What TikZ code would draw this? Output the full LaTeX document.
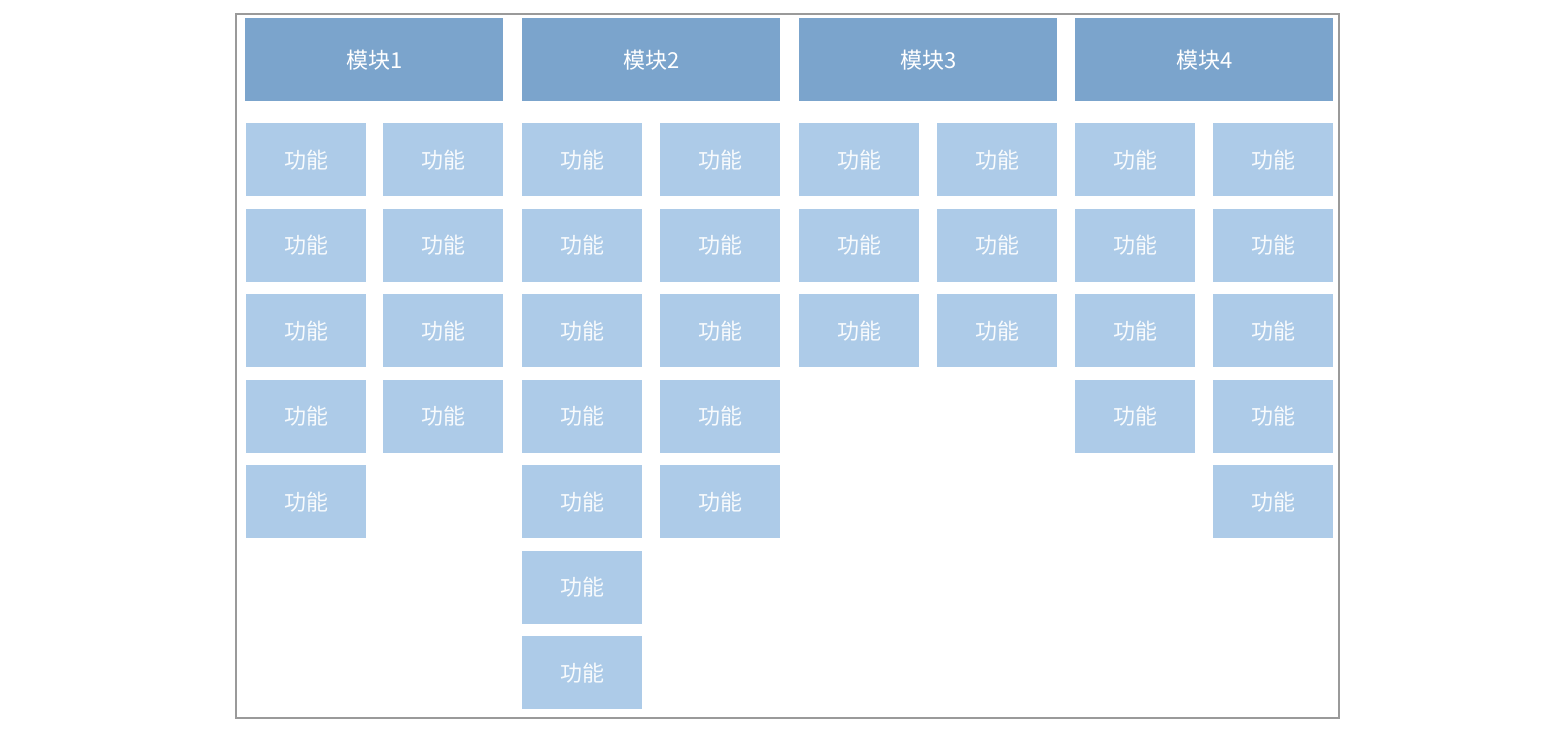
\documentclass[tikz,border=0pt]{standalone}
\usepackage{fontspec}
\newfontfamily\cjk{Noto Sans CJK SC}
\definecolor{hdr}{HTML}{7BA4CC}
\definecolor{fn}{HTML}{ADCBE8}
\definecolor{framec}{HTML}{9A9A9A}
\begin{document}
\begin{tikzpicture}[x=0.5pt,y=-0.5pt,
  header/.style={fill=hdr, text=white, font=\cjk\fontsize{11}{13}\selectfont,
    minimum width=129pt, minimum height=41.5pt, inner sep=0pt, anchor=north west},
  func/.style={fill=fn, text=white!92!fn, font=\cjk\fontsize{11}{13}\selectfont,
    minimum width=60pt, minimum height=36.5pt, inner sep=0pt, anchor=north west},
  outer/.style={draw=framec, line width=0.9pt, minimum width=551.5pt, minimum height=352pt,
    inner sep=0pt, anchor=north west}]
\path[use as bounding box] (0,0) rectangle (1552,732);
\node[outer] (frame) at (235,13) {};
\node[header] (m1) at (245,18) {模块1};
\node[header] (m2) at (522,18) {模块2};
\node[header] (m3) at (799,18) {模块3};
\node[header] (m4) at (1075,18) {模块4};
\foreach \c/\x/\n in {1a/246/5, 1b/383/4, 2a/522/7, 2b/660/5, 3a/799/3, 3b/937/3, 4a/1075/4, 4b/1213/5}{
  \foreach \r in {1,...,\n}{
    \node[func] (f\c\r) at (\x,{123+(\r-1)*85.5}) {功能};
  }
}
\end{tikzpicture}
\end{document}
